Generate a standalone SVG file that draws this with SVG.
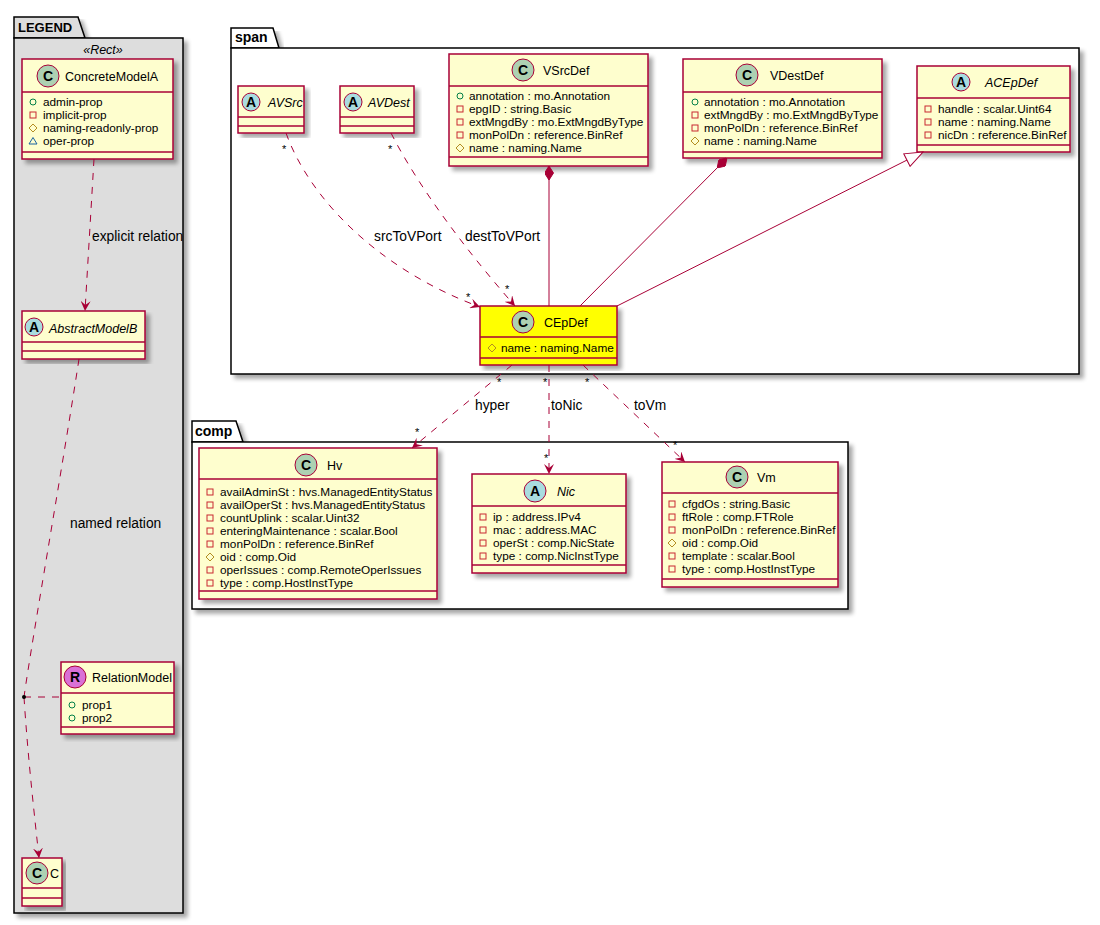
<svg xmlns="http://www.w3.org/2000/svg" xmlns:xlink="http://www.w3.org/1999/xlink" width="1100" height="925" viewBox="0 0 1100 925">
<defs>
<style>
text{font-family:"Liberation Sans",Arial,sans-serif;fill:#000}
.pkg{stroke:#000;stroke-width:1.5}
.pt{font-size:14px;font-weight:bold}
.box{fill:#FEFECE;stroke:#A80036;stroke-width:1.5}
.sep{stroke:#A80036;stroke-width:1.5}
.circ{stroke:#A80036;stroke-width:1}
.cc{fill:#ADD1B2}
.ca{fill:#A9DCDF}
.cr{fill:#DA70D6}
.lt{font-size:14px;font-weight:bold;text-anchor:middle}
.nm{font-size:12.5px}
.it{font-style:italic}
.at{font-size:11.8px}
.lbl{font-size:13.8px}
.mul{font-size:11px}
.ln{fill:none;stroke:#A80036;stroke-width:1}
.dash{stroke-dasharray:7,7}
</style>
<filter id="sh" x="-5%" y="-5%" width="115%" height="115%">
<feGaussianBlur in="SourceAlpha" stdDeviation="2"/>
<feOffset dx="4" dy="4" result="o"/>
<feComponentTransfer><feFuncA type="linear" slope="0.35"/></feComponentTransfer>
<feMerge><feMergeNode/><feMergeNode in="SourceGraphic"/></feMerge>
</filter>
<g id="pub"><circle cx="0" cy="0" r="3" fill="none" stroke="#038048" stroke-width="1"/></g>
<g id="pri"><rect x="-3" y="-3" width="6" height="6" fill="none" stroke="#C82930" stroke-width="1"/></g>
<g id="pro"><polygon points="0,-4 4,0 0,4 -4,0" fill="none" stroke="#B38D22" stroke-width="1"/></g>
<g id="pkgv"><polygon points="0,-3.5 4,3 -4,3" fill="none" stroke="#1963A0" stroke-width="1"/></g>
<marker id="arr" viewBox="0 0 10 10" refX="10" refY="5" markerWidth="10" markerHeight="10" markerUnits="userSpaceOnUse" orient="auto">
<path d="M10,5 L0,0 L4,5 L0,10 Z" fill="#A80036"/>
</marker>
<marker id="dia" viewBox="0 0 14 9" refX="0" refY="4.5" markerWidth="14" markerHeight="9" markerUnits="userSpaceOnUse" orient="auto">
<path d="M0,4.5 L7,0 L14,4.5 L7,9 Z" fill="#A80036" stroke="#A80036" stroke-width="1"/>
</marker>
<marker id="tri" viewBox="-1 -1 20 16" refX="18" refY="7" markerWidth="20" markerHeight="16" markerUnits="userSpaceOnUse" orient="auto">
<path d="M18,7 L0,0 L0,14 Z" fill="#FFFFFF" stroke="#A80036" stroke-width="1"/>
</marker>
</defs>
<rect width="1100" height="925" fill="#FFFFFF"/>

<!-- packages -->
<g id="pkg-legend">
<path class="pkg" d="M14,38 V17 H78 L85,38 Z" fill="#DDDDDD" filter="url(#sh)"/>
<rect class="pkg" x="14" y="38" width="169" height="875" fill="#DDDDDD" filter="url(#sh)"/>
<text class="pt" x="18" y="32" style="font-size:13px">LEGEND</text>
<text class="nm it" x="103" y="54" text-anchor="middle">«Rect»</text>
</g>
<g id="pkg-span">
<path class="pkg" d="M231,48 V28 H273 L279,48 Z" fill="#FFFFFF" filter="url(#sh)"/>
<rect class="pkg" x="231" y="48" width="848" height="326" fill="#FFFFFF" filter="url(#sh)"/>
<text class="pt" x="235" y="42">span</text>
</g>
<g id="pkg-comp">
<path class="pkg" d="M192,442 V421 H236 L243,442 Z" fill="#FFFFFF" filter="url(#sh)"/>
<rect class="pkg" x="192" y="442" width="656" height="167" fill="#FFFFFF" filter="url(#sh)"/>
<text class="pt" x="195" y="436">comp</text>
</g>

<!-- legend nodes -->
<g id="ConcreteModelA">
<rect class="box" x="22" y="59" width="151" height="100" filter="url(#sh)"/>
<line class="sep" x1="22" y1="92" x2="173" y2="92"/>
<line class="sep" x1="22" y1="152" x2="173" y2="152"/>
<circle class="circ cc" cx="48" cy="76" r="11"/>
<text class="lt" x="48" y="81">C</text>
<text class="nm" x="65" y="81">ConcreteModelA</text>
<use href="#pub" x="33" y="102"/><text class="at" x="43" y="106">admin-prop</text>
<use href="#pri" x="33" y="115"/><text class="at" x="43" y="119">implicit-prop</text>
<use href="#pro" x="33" y="128"/><text class="at" x="43" y="132">naming-readonly-prop</text>
<use href="#pkgv" x="33" y="141"/><text class="at" x="43" y="145">oper-prop</text>
</g>
<g id="AbstractModelB">
<rect class="box" x="22" y="311" width="123" height="48" filter="url(#sh)"/>
<line class="sep" x1="22" y1="342" x2="145" y2="342"/>
<line class="sep" x1="22" y1="351" x2="145" y2="351"/>
<circle class="circ ca" cx="34" cy="327" r="9"/>
<text class="lt" x="34" y="332">A</text>
<text class="nm it" x="49" y="333">AbstractModelB</text>
</g>
<g id="RelationModel">
<rect class="box" x="61" y="662" width="113" height="72" filter="url(#sh)"/>
<line class="sep" x1="61" y1="693" x2="174" y2="693"/>
<line class="sep" x1="61" y1="727" x2="174" y2="727"/>
<circle class="circ cr" cx="75" cy="677" r="11"/>
<text class="lt" x="75" y="682">R</text>
<text class="nm" x="92" y="682">RelationModel</text>
<use href="#pub" x="72" y="705"/><text class="at" x="82" y="709">prop1</text>
<use href="#pub" x="72" y="718"/><text class="at" x="82" y="722">prop2</text>
</g>
<g id="C">
<rect class="box" x="22" y="858" width="40" height="48" filter="url(#sh)"/>
<line class="sep" x1="22" y1="888" x2="62" y2="888"/>
<line class="sep" x1="22" y1="898" x2="62" y2="898"/>
<circle class="circ cc" cx="37" cy="873" r="11"/>
<text class="lt" x="37" y="878">C</text>
<text class="nm" x="50" y="878">C</text>
</g>

<!-- span nodes -->
<g id="AVSrc">
<rect class="box" x="238" y="86" width="66" height="47" filter="url(#sh)"/>
<line class="sep" x1="238" y1="117" x2="304" y2="117"/>
<line class="sep" x1="238" y1="126" x2="304" y2="126"/>
<circle class="circ ca" cx="251" cy="102" r="9"/>
<text class="lt" x="251" y="107">A</text>
<text class="nm it" x="268" y="107">AVSrc</text>
</g>
<g id="AVDest">
<rect class="box" x="340" y="86" width="74" height="47" filter="url(#sh)"/>
<line class="sep" x1="340" y1="117" x2="414" y2="117"/>
<line class="sep" x1="340" y1="126" x2="414" y2="126"/>
<circle class="circ ca" cx="353" cy="102" r="9"/>
<text class="lt" x="353" y="107">A</text>
<text class="nm it" x="368" y="107">AVDest</text>
</g>
<g id="VSrcDef">
<rect class="box" x="449" y="54" width="199" height="112" filter="url(#sh)"/>
<line class="sep" x1="449" y1="86" x2="648" y2="86"/>
<line class="sep" x1="449" y1="157" x2="648" y2="157"/>
<circle class="circ cc" cx="523" cy="70" r="11"/>
<text class="lt" x="523" y="75">C</text>
<text class="nm" x="543" y="75">VSrcDef</text>
<use href="#pub" x="460" y="96"/><text class="at" x="469" y="100">annotation : mo.Annotation</text>
<use href="#pri" x="460" y="109"/><text class="at" x="469" y="113">epgID : string.Basic</text>
<use href="#pri" x="460" y="122"/><text class="at" x="469" y="126">extMngdBy : mo.ExtMngdByType</text>
<use href="#pri" x="460" y="135"/><text class="at" x="469" y="139">monPolDn : reference.BinRef</text>
<use href="#pro" x="460" y="148"/><text class="at" x="469" y="152">name : naming.Name</text>
</g>
<g id="VDestDef">
<rect class="box" x="683" y="59" width="199" height="99" filter="url(#sh)"/>
<line class="sep" x1="683" y1="92" x2="882" y2="92"/>
<line class="sep" x1="683" y1="152" x2="882" y2="152"/>
<circle class="circ cc" cx="747" cy="75" r="11"/>
<text class="lt" x="747" y="80">C</text>
<text class="nm" x="770" y="80">VDestDef</text>
<use href="#pub" x="695" y="102"/><text class="at" x="704" y="106">annotation : mo.Annotation</text>
<use href="#pri" x="695" y="115"/><text class="at" x="704" y="119">extMngdBy : mo.ExtMngdByType</text>
<use href="#pri" x="695" y="128"/><text class="at" x="704" y="132">monPolDn : reference.BinRef</text>
<use href="#pro" x="695" y="141"/><text class="at" x="704" y="145">name : naming.Name</text>
</g>
<g id="ACEpDef">
<rect class="box" x="917" y="66" width="153" height="86" filter="url(#sh)"/>
<line class="sep" x1="917" y1="98" x2="1070" y2="98"/>
<line class="sep" x1="917" y1="145" x2="1070" y2="145"/>
<circle class="circ ca" cx="961" cy="82" r="9"/>
<text class="lt" x="961" y="87">A</text>
<text class="nm it" x="985" y="87">ACEpDef</text>
<use href="#pri" x="928" y="109"/><text class="at" x="938" y="113">handle : scalar.Uint64</text>
<use href="#pri" x="928" y="122"/><text class="at" x="938" y="126">name : naming.Name</text>
<use href="#pri" x="928" y="135"/><text class="at" x="938" y="139">nicDn : reference.BinRef</text>
</g>
<g id="CEpDef">
<rect class="box" x="480" y="306" width="137" height="59" style="fill:#FFFF00" filter="url(#sh)"/>
<line class="sep" x1="480" y1="337" x2="617" y2="337"/>
<line class="sep" x1="480" y1="358" x2="617" y2="358"/>
<circle class="circ cc" cx="523" cy="322" r="11"/>
<text class="lt" x="523" y="327">C</text>
<text class="nm" x="544" y="327">CEpDef</text>
<use href="#pro" x="492" y="348"/><text class="at" x="501" y="352">name : naming.Name</text>
</g>

<!-- comp nodes -->
<g id="Hv">
<rect class="box" x="199" y="448" width="238" height="151" filter="url(#sh)"/>
<line class="sep" x1="199" y1="479" x2="437" y2="479"/>
<line class="sep" x1="199" y1="591" x2="437" y2="591"/>
<circle class="circ cc" cx="306" cy="465" r="11"/>
<text class="lt" x="306" y="470">C</text>
<text class="nm" x="327" y="470">Hv</text>
<use href="#pri" x="210" y="492"/><text class="at" x="220" y="496">availAdminSt : hvs.ManagedEntityStatus</text>
<use href="#pri" x="210" y="505"/><text class="at" x="220" y="509">availOperSt : hvs.ManagedEntityStatus</text>
<use href="#pri" x="210" y="518"/><text class="at" x="220" y="522">countUplink : scalar.Uint32</text>
<use href="#pri" x="210" y="531"/><text class="at" x="220" y="535">enteringMaintenance : scalar.Bool</text>
<use href="#pri" x="210" y="544"/><text class="at" x="220" y="548">monPolDn : reference.BinRef</text>
<use href="#pro" x="210" y="557"/><text class="at" x="220" y="561">oid : comp.Oid</text>
<use href="#pri" x="210" y="570"/><text class="at" x="220" y="574">operIssues : comp.RemoteOperIssues</text>
<use href="#pri" x="210" y="583"/><text class="at" x="220" y="587">type : comp.HostInstType</text>
</g>
<g id="Nic">
<rect class="box" x="472" y="474" width="154" height="99" filter="url(#sh)"/>
<line class="sep" x1="472" y1="506" x2="626" y2="506"/>
<line class="sep" x1="472" y1="565" x2="626" y2="565"/>
<circle class="circ ca" cx="535" cy="491" r="11"/>
<text class="lt" x="535" y="496">A</text>
<text class="nm it" x="557" y="496">Nic</text>
<use href="#pri" x="483" y="517"/><text class="at" x="493" y="521">ip : address.IPv4</text>
<use href="#pri" x="483" y="530"/><text class="at" x="493" y="534">mac : address.MAC</text>
<use href="#pri" x="483" y="543"/><text class="at" x="493" y="547">operSt : comp.NicState</text>
<use href="#pri" x="483" y="556"/><text class="at" x="493" y="560">type : comp.NicInstType</text>
</g>
<g id="Vm">
<rect class="box" x="662" y="462" width="176" height="125" filter="url(#sh)"/>
<line class="sep" x1="662" y1="493" x2="838" y2="493"/>
<line class="sep" x1="662" y1="579" x2="838" y2="579"/>
<circle class="circ cc" cx="737" cy="477" r="11"/>
<text class="lt" x="737" y="482">C</text>
<text class="nm" x="757" y="482">Vm</text>
<use href="#pri" x="672" y="504"/><text class="at" x="682" y="508">cfgdOs : string.Basic</text>
<use href="#pri" x="672" y="517"/><text class="at" x="682" y="521">ftRole : comp.FTRole</text>
<use href="#pri" x="672" y="530"/><text class="at" x="682" y="534">monPolDn : reference.BinRef</text>
<use href="#pro" x="672" y="543"/><text class="at" x="682" y="547">oid : comp.Oid</text>
<use href="#pri" x="672" y="556"/><text class="at" x="682" y="560">template : scalar.Bool</text>
<use href="#pri" x="672" y="569"/><text class="at" x="682" y="573">type : comp.HostInstType</text>
</g>

<!-- connectors -->
<g id="connectors">
<path class="ln dash" d="M94,159 L85,311" marker-end="url(#arr)"/>
<text class="lbl" x="92" y="241">explicit relation</text>
<path class="ln dash" d="M79,359 C62,470 32,640 24,697"/>
<path class="ln dash" d="M24,697 C28,760 35,820 39,858" marker-end="url(#arr)"/>
<path class="ln dash" d="M24,697 L61,697"/>
<circle cx="24" cy="697" r="2" fill="#000"/>
<text class="lbl" x="70" y="528">named relation</text>

<path class="ln dash" d="M286,133 C310,200 380,270 480,307" marker-end="url(#arr)"/>
<text class="lbl" x="374" y="241">srcToVPort</text>
<text class="mul" x="282" y="153">*</text>
<text class="mul" x="466" y="301">*</text>
<path class="ln dash" d="M391,133 C420,190 470,255 515,306" marker-end="url(#arr)"/>
<text class="lbl" x="465" y="241">destToVPort</text>
<text class="mul" x="388" y="153">*</text>
<text class="mul" x="505" y="293">*</text>

<path class="ln" d="M549,166 L549,306" marker-start="url(#dia)"/>
<path class="ln" d="M727,158 L580,306" marker-start="url(#dia)"/>
<path class="ln" d="M617,306 L923,152" marker-end="url(#tri)"/>

<path class="ln dash" d="M512,365 L412,448" marker-end="url(#arr)"/>
<text class="lbl" x="475" y="410">hyper</text>
<text class="mul" x="497" y="386">*</text>
<text class="mul" x="415" y="436">*</text>
<path class="ln dash" d="M549,365 L549,474" marker-end="url(#arr)"/>
<text class="lbl" x="551" y="410">toNic</text>
<text class="mul" x="543" y="386">*</text>
<text class="mul" x="544" y="462">*</text>
<path class="ln dash" d="M583,365 L685,462" marker-end="url(#arr)"/>
<text class="lbl" x="634" y="410">toVm</text>
<text class="mul" x="585" y="386">*</text>
<text class="mul" x="673" y="449">*</text>
</g>
</svg>
